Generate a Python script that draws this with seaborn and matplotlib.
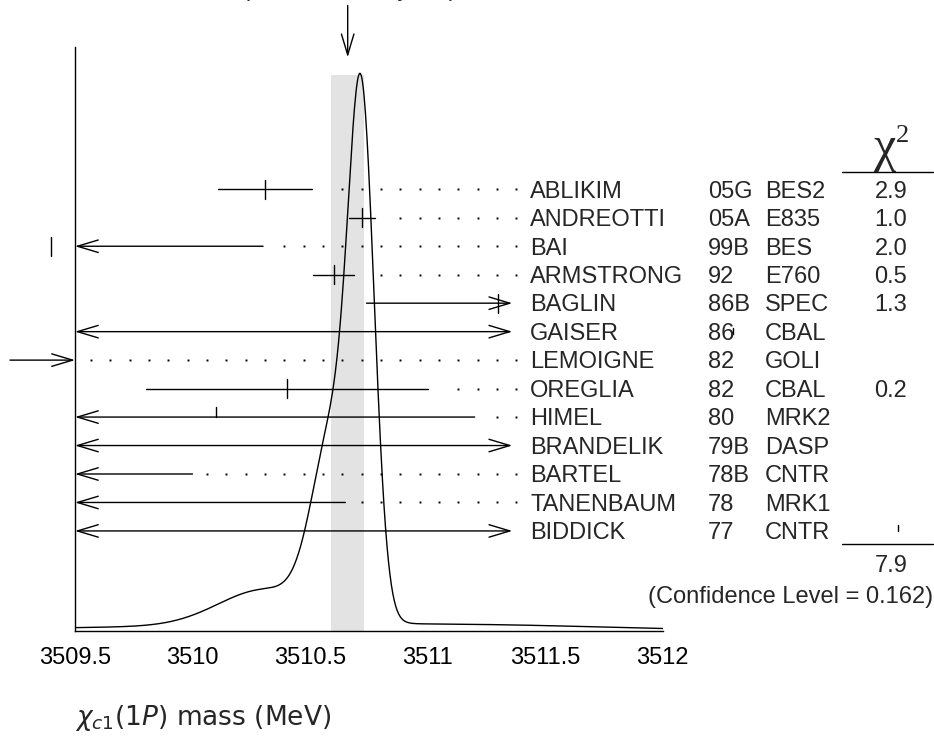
#!/usr/bin/env python3
"""
Ideogram of the chi_c1(1P) mass measurements (PDG style)
"""

import numpy as np
import matplotlib
matplotlib.use('Agg')
import matplotlib.pyplot as plt
import seaborn as sns

# Measurements, top to bottom
authors = ['ABLIKIM', 'ANDREOTTI', 'BAI', 'ARMSTRONG', 'BAGLIN', 'GAISER', 'LEMOIGNE',
           'OREGLIA', 'HIMEL', 'BRANDELIK', 'BARTEL', 'TANENBAUM', 'BIDDICK']
years = ['05G', '05A', '99B', '92', '86B', '86', '82', '82', '80', '79B', '78B', '78', '77']
experiments = ['BES2', 'E835', 'BES', 'E760', 'SPEC', 'CBAL', 'GOLI', 'CBAL', 'MRK2',
               'DASP', 'CNTR', 'MRK1', 'CNTR']
values = [3510.31, 3510.72, 3509.40, 3510.60, 3511.30, 3512.3, 3507.4,
          3510.40, 3510.10, 3507.0, 3507.0, 3507.4, 3513.0]
errors = [0.20, 0.055, 0.90, 0.088, 0.56, 4.0, 1.7, 0.60, 1.10, 5.0, 3.0, 3.25, 5.0]
chi2 = ['2.9', '1.0', '2.0', '0.5', '1.3', '', '', '0.2', '', '', '', '', '']
chi2_total = '7.9'
conf_level = '0.162'

avg_value = 3510.66
avg_error = 0.07
scale_factor = 1.2

x_ticks = [3509.5, 3510, 3510.5, 3511, 3511.5, 3512]
tick_labels = ['3509.5', '3510', '3510.5', '3511', '3511.5', '3512']

# how the central-value mark is drawn for each row
mark_kind = ['full', 'full', 'full', 'full', 'full', 'small', 'full',
             'full', 'up', 'full', 'full', 'full', 'up_small']

# ---- layout helpers (pixel positions of the original page) ----
X_MIN, X_MAX = 3509.5, 3512.0
X_CLIP = 3511.36                 # error bars stop here (text starts on the right)
PX_LEFT, PX_PER_MEV = 75.0, 235.0
ROW0_PX, ROW_PX = 189.3, 28.47


def xpos(px):
    return X_MIN + (px - PX_LEFT) / PX_PER_MEV


def ypos(px):
    return (px - ROW0_PX) / ROW_PX


sns.set_style('white')
plt.rcParams['font.family'] = ['Liberation Sans', 'DejaVu Sans']
plt.rcParams['font.size'] = 17

fig = plt.figure(figsize=(9.34, 7.36), dpi=100)
ax = fig.add_axes([PX_LEFT / 934, 1 - 630.7 / 736, 587.7 / 934, 583.4 / 736])
ax.set_xlim(X_MIN, X_MAX)
ax.set_ylim(ypos(630.7), ypos(47.3))
ax.patch.set_visible(False)

# ideogram curve and weighted-average band on a twin axis behind
ax2 = ax.twinx()
ax2.set_zorder(ax.get_zorder() - 1)
grid = np.linspace(X_MIN, X_MAX, 800)
ideogram = np.zeros_like(grid)
for v, e, c in zip(values, errors, chi2):
    if c:
        ideogram += np.exp(-0.5 * ((grid - v) / e) ** 2) / e ** 2
ax2.axvspan(avg_value - avg_error, avg_value + avg_error, ymin=0, ymax=0.9525,
            color='#e3e3e3', lw=0)
sns.lineplot(x=grid, y=ideogram, ax=ax2, color='black', lw=1.0)
ax2.set_ylim(0, ideogram.max() / 0.9554)
ax2.set_xlim(X_MIN, X_MAX)
ax2.axis('off')

# axes styling
for side in ['top', 'right']:
    ax.spines[side].set_visible(False)
for side in ['left', 'bottom']:
    ax.spines[side].set_color('black')
    ax.spines[side].set_linewidth(1.0)
ax.set_yticks([])
ax.set_xticks(x_ticks)
ax.set_xticklabels(tick_labels)
ax.tick_params(axis='x', direction='in', length=12, width=1.0, pad=12,
               labelsize=17, colors='black')
ax.set_xlabel(r'$\chi_{c1}(1P)$ mass (MeV)', loc='left', fontsize=19,
              family='DejaVu Sans', labelpad=24)

head = '->,head_length=1.5,head_width=0.45'
both = '<->,head_length=1.5,head_width=0.45'


def arrow(x0, x1, y, style):
    ax.annotate('', xy=(x1, y), xytext=(x0, y),
                arrowprops=dict(arrowstyle=style, color='black', lw=1.0,
                                shrinkA=0, shrinkB=0, mutation_scale=10),
                annotation_clip=False)


mark_size = {'full': (0.34, 0.34), 'up': (0.35, 0.0), 'small': (0.12, 0.08),
             'up_small': (0.22, 0.0)}
dot_x = xpos(91.0) + np.arange(23) * (19.33 / PX_PER_MEV)

name_x, year_x, exp_x = xpos(530), xpos(708), xpos(765)
chi_x = xpos(907)

for i, (name, yr, exp, v, e, c) in enumerate(zip(authors, years, experiments,
                                                  values, errors, chi2)):
    y = i
    lo, hi = v - e, v + e
    if hi < X_MIN:
        # entirely off scale to the left
        arrow(xpos(10), X_MIN, y, head)
        bar_end = X_MIN - 1
    elif lo < X_MIN and hi > X_CLIP:
        arrow(X_MIN, X_CLIP, y, both)
        bar_end = X_CLIP
    elif lo < X_MIN:
        arrow(hi, X_MIN, y, head)
        bar_end = hi
    elif hi > X_CLIP:
        arrow(lo, X_CLIP, y, head)
        bar_end = X_CLIP
    else:
        ax.plot([lo, hi], [y, y], color='black', lw=1.0)
        bar_end = hi

    up, down = mark_size[mark_kind[i]]
    ax.plot([v, v], [y - up, y + down], color='black', lw=1.0, clip_on=False)

    dx = dot_x[dot_x > bar_end + 0.053]
    if len(dx):
        ax.plot(dx, np.full(len(dx), y), ls='none', marker='s', ms=1.4,
                color='black', mew=0)

    ty = y + 0.08
    ax.text(name_x, ty, name, ha='left', va='center', fontsize=17, clip_on=False)
    ax.text(year_x, ty, yr, ha='left', va='center', fontsize=17, clip_on=False)
    ax.text(exp_x, ty, exp, ha='left', va='center', fontsize=17, clip_on=False)
    if c:
        ax.text(chi_x, ty, c, ha='right', va='center', fontsize=17, clip_on=False)

# chi^2 column header, sum line and totals
ax.text(xpos(885), ypos(161), 'χ', ha='center', va='baseline', fontsize=36,
        family=['Liberation Serif', 'DejaVu Serif'], clip_on=False)
ax.text(xpos(896), ypos(142), '2', ha='left', va='baseline', fontsize=19,
        family=['Liberation Serif', 'DejaVu Serif'], clip_on=False)
ax.plot([xpos(842), xpos(933)], [ypos(172), ypos(172)], color='black', lw=1.0, clip_on=False)
ax.plot([xpos(842), xpos(933)], [ypos(544), ypos(544)], color='black', lw=1.0, clip_on=False)
ax.text(chi_x, ypos(566), chi2_total, ha='right', va='center', fontsize=17, clip_on=False)
ax.text(xpos(933), ypos(597), f'(Confidence Level = {conf_level})', ha='right',
        va='center', fontsize=17, clip_on=False)

# weighted average arrow and (mostly cut off) caption at the top
ax.annotate('', xy=(avg_value, ypos(57.3)), xytext=(avg_value, ypos(5.5)),
            arrowprops=dict(arrowstyle=head, color='black', lw=1.0,
                            shrinkA=0, shrinkB=0, mutation_scale=10),
            annotation_clip=False)
ax.text(xpos(457), ypos(-4), f'{avg_value:.2f}±{avg_error:.2f} (Error scaled by {scale_factor})',
        ha='right', va='baseline', fontsize=17, clip_on=False)

plt.savefig('out.png', dpi=100, facecolor='white', edgecolor='none')
plt.close()
